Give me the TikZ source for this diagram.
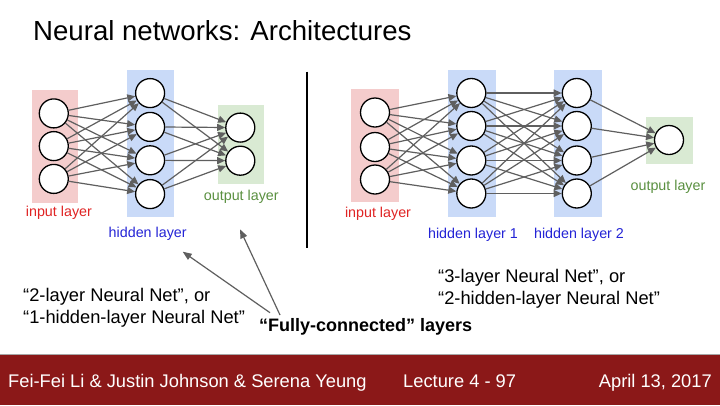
\documentclass[tikz,border=0pt]{standalone}
\usepackage{fontspec}
\setmainfont{Liberation Sans}
\usetikzlibrary{arrows.meta}
\definecolor{inpink}{HTML}{F4CCCC}
\definecolor{hidblue}{HTML}{C9DAF8}
\definecolor{outgreen}{HTML}{D9EAD3}
\definecolor{labred}{HTML}{E02424}
\definecolor{labblue}{HTML}{2424D6}
\definecolor{labgreen}{HTML}{5A9040}
\definecolor{edgegrey}{HTML}{5F5F5F}
\definecolor{footred}{HTML}{8B1818}
\tikzset{
  neuron/.style={circle,draw=black,fill=white,line width=1.3pt,minimum size=29pt,inner sep=0pt},
  conn/.style={draw=edgegrey,line width=1.2pt,-{Triangle[length=8pt,width=7pt]}},
  lab/.style={font=\fontsize{14.3}{16}\selectfont,anchor=base,inner sep=0pt},
  bodytext/.style={font=\fontsize{18.3}{22}\selectfont,anchor=base west,inner sep=0pt},
  foottext/.style={font=\fontsize{18.3}{22}\selectfont,text=white,inner sep=0pt},
  callout/.style={draw=edgegrey,line width=1.2pt,-{Triangle[length=9pt,width=7pt]}}
}
\begin{document}
\begin{tikzpicture}[x=1pt,y=-1pt]
\useasboundingbox (0,0) rectangle (720,405);
\fill[white] (0,0) rectangle (720,405);
% title
\node[anchor=base west,inner sep=0pt,font=\fontsize{27.6}{32}\selectfont] (title) at (33,40) {Neural networks: Architectures};
% ===== left network =====
\fill[inpink] (31.8,89.7) rectangle (78.1,202.6);
\fill[hidblue] (127.1,70.1) rectangle (173.7,217.1);
\fill[outgreen] (217.6,104.9) rectangle (263.9,184);
\foreach \i/\y in {1/113.4,2/146.1,3/178.9} \node[neuron] (LI\i) at (53.8,\y) {};
\foreach \i/\y in {1/93.1,2/126.9,3/160.3,4/194.1} \node[neuron] (LH\i) at (150.1,\y) {};
\foreach \i/\y in {1/127.6,2/160.7} \node[neuron] (LO\i) at (240.3,\y) {};
\foreach \a in {1,2,3} \foreach \b in {1,2,3,4} \draw[conn] (LI\a) -- (LH\b);
\foreach \a in {1,2,3,4} \foreach \b in {1,2} \draw[conn] (LH\a) -- (LO\b);
\node[lab,text=labred] (Linlab) at (58.9,216) {input layer};
\node[lab,text=labblue] (Lhidlab) at (147.7,237) {hidden layer};
\node[lab,text=labgreen] (Loutlab) at (241.3,200.5) {output layer};
% divider
\draw[black,line width=2pt] (307.3,71.7) -- (307.3,248.3);
% ===== right network =====
\fill[inpink] (351.2,88.8) rectangle (398.8,201.5);
\fill[hidblue] (448,69.5) rectangle (495.5,216.5);
\fill[hidblue] (553.5,69.5) rectangle (601.5,216.5);
\fill[outgreen] (645.5,117) rectangle (693,163.5);
\foreach \i/\y in {1/112.5,2/147,3/179.5} \node[neuron] (RI\i) at (375,\y) {};
\foreach \i/\y in {1/93,2/126,3/160.5,4/193.5} \node[neuron] (RA\i) at (471.3,\y) {};
\foreach \i/\y in {1/93,2/126,3/160.5,4/193.5} \node[neuron] (RB\i) at (576.8,\y) {};
\node[neuron] (RO1) at (669,140) {};
\foreach \a in {1,2,3} \foreach \b in {1,2,3,4} \draw[conn] (RI\a) -- (RA\b);
\foreach \a in {1,2,3,4} \foreach \b in {1,2,3,4} \draw[conn] (RA\a) -- (RB\b);
\foreach \a in {1,2,3,4} \draw[conn] (RB\a) -- (RO1);
\node[lab,text=labred] (Rinlab) at (378,217) {input layer};
\node[lab,text=labblue] (Rh1lab) at (473,238) {hidden layer 1};
\node[lab,text=labblue] (Rh2lab) at (579,238) {hidden layer 2};
\node[lab,text=labgreen] (Routlab) at (668,190) {output layer};
% ===== bottom texts =====
\node[bodytext] (t2a) at (23,301.7) {“2-layer Neural Net”, or};
\node[bodytext] (t2b) at (23,323.3) {“1-hidden-layer Neural Net”};
\node[bodytext,font=\fontsize{18}{22}\selectfont\bfseries] (fc) at (259,331.7) {“Fully-connected” layers};
\node[bodytext] (t3a) at (438,282) {“3-layer Neural Net”, or};
\node[bodytext] (t3b) at (438,304) {“2-hidden-layer Neural Net”};
\coordinate (fcA) at (270,312.7);
\coordinate (fcB) at (280,315);
\coordinate (tipA) at (182.7,251.7);
\coordinate (tipB) at (240,229.3);
\draw[callout] (fcA) -- (tipA);
\draw[callout] (fcB) -- (tipB);
% ===== footer =====
\fill[footred] (0,354) rectangle (720,405);
\draw[black!35,line width=0.8pt] (0,354) -- (720,354);
\node[foottext,anchor=base west] (f1) at (8,387) {Fei-Fei Li \& Justin Johnson \& Serena Yeung};
\node[foottext,anchor=base west] (f2) at (403,387) {Lecture 4 - 97};
\node[foottext,anchor=base east] (f3) at (712,387) {April 13, 2017};
\end{tikzpicture}
\end{document}
